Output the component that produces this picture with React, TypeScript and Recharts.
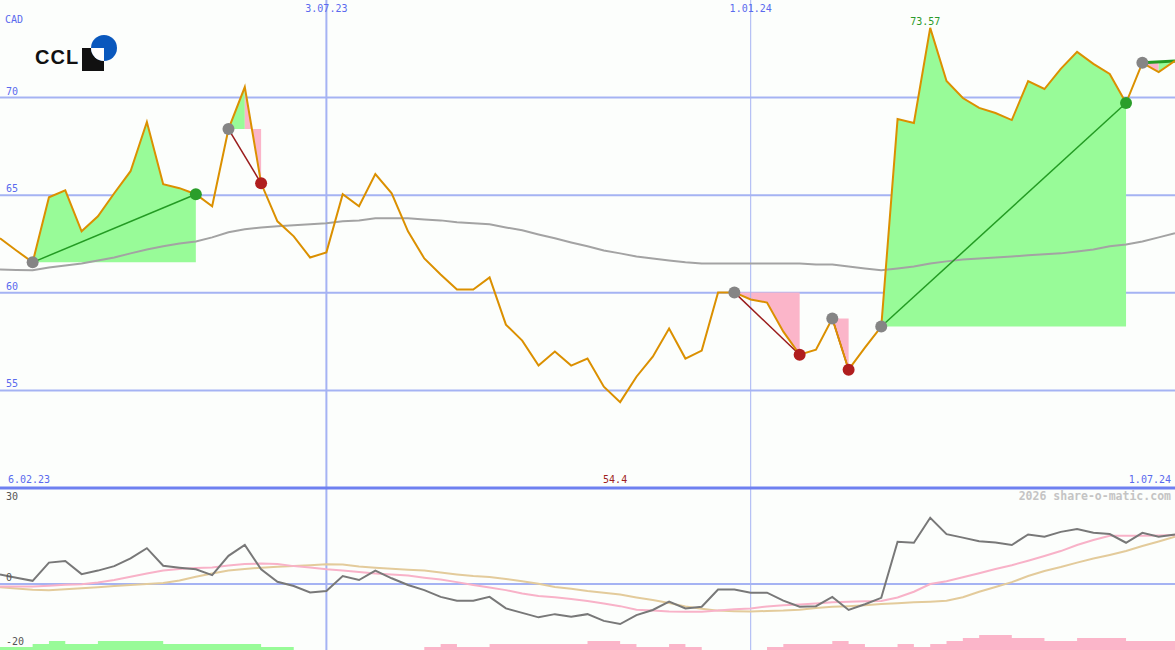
import { ComposedChart, Line, Area, XAxis, YAxis, CartesianGrid, ReferenceLine, ReferenceDot } from 'recharts';

const W = 1175;
const TOP_H = 488;
const LOW_H = 164;

const FONT = '"DejaVu Sans Mono", monospace';
const AXIS_TEXT = '#5a6aee';
const GRID = '#a5b3f3';
const GAIN_FILL = '#98fb98';
const LOSS_FILL = '#fbb5c9';

// weekly closes, CAD
const closes = [
  62.79, 62.17, 61.56, 64.89, 65.25, 63.15, 63.92, 65.10, 66.23, 68.75,
  65.56, 65.36, 65.05, 64.43, 68.39, 70.54, 65.61, 63.66, 62.89, 61.81,
  62.07, 65.05, 64.43, 66.08, 65.10, 63.15, 61.76, 60.94, 60.17, 60.17,
  60.79, 58.37, 57.55, 56.27, 56.99, 56.27, 56.63, 55.19, 54.40, 55.70,
  56.73, 58.17, 56.63, 57.04, 60.02, 60.02, 59.66, 59.50, 58.01, 56.83,
  57.09, 58.68, 56.06, 57.19, 58.27, 68.90, 68.70, 73.57, 70.85, 69.98,
  69.47, 69.21, 68.85, 70.85, 70.44, 71.47, 72.34, 71.73, 71.21, 69.72,
  71.78, 71.31, 71.88,
];

// long moving average
const average = [
  61.20, 61.17, 61.15, 61.30, 61.40, 61.50, 61.66, 61.81, 62.02, 62.22,
  62.38, 62.53, 62.63, 62.84, 63.10, 63.25, 63.35, 63.41, 63.46, 63.51,
  63.56, 63.66, 63.71, 63.82, 63.82, 63.82, 63.76, 63.71, 63.61, 63.56,
  63.51, 63.35, 63.20, 62.99, 62.79, 62.58, 62.38, 62.17, 62.02, 61.86,
  61.76, 61.66, 61.56, 61.50, 61.50, 61.50, 61.50, 61.50, 61.50, 61.50,
  61.45, 61.45, 61.35, 61.25, 61.15, 61.25, 61.35, 61.50, 61.61, 61.71,
  61.76, 61.81, 61.86, 61.92, 61.97, 62.02, 62.12, 62.22, 62.38, 62.48,
  62.63, 62.84, 63.05,
];

const momentum = [
  3.0, 2.0, 1.0, 6.7, 7.2, 3.1, 4.2, 5.6, 8.0, 11.2,
  5.7, 5.1, 4.6, 2.8, 8.8, 12.2, 4.6, 0.7, -0.6, -2.6,
  -2.2, 2.5, 1.25, 4.2, 1.8, -0.3, -1.9, -4.0, -5.2, -5.2,
  -4.0, -7.6, -9.0, -10.4, -9.4, -10.2, -9.4, -11.5, -12.5, -9.7,
  -8.1, -5.5, -7.6, -7.1, -1.7, -1.7, -2.7, -2.7, -5.2, -7.1,
  -6.9, -4.0, -8.1, -6.3, -4.3, 13.2, 12.9, 20.7, 15.6, 14.5,
  13.4, 13.0, 12.2, 15.5, 14.8, 16.3, 17.2, 16.0, 15.6, 12.9,
  16.0, 14.8, 15.5,
];

const fastSignal = [
  -0.8, -0.8, -0.8, -0.5, -0.2, -0.1, 0.5, 1.25, 2.3, 3.3,
  4.2, 4.7, 5.0, 5.2, 5.8, 6.25, 6.4, 6.25, 5.6, 5.2,
  4.6, 4.2, 3.75, 3.3, 2.95, 2.65, 2.0, 1.4, 0.6, -0.3,
  -1.1, -1.9, -2.95, -3.75, -4.1, -4.7, -5.3, -6.1, -6.9, -8.0,
  -8.3, -8.6, -8.65, -8.65, -8.3, -7.9, -7.6, -7.0, -6.6, -6.4,
  -6.1, -5.7, -5.55, -5.4, -5.3, -4.2, -2.4, 0.0, 0.9, 2.1,
  3.4, 4.7, 5.9, 7.3, 8.75, 10.3, 12.2, 13.75, 15.1, 15.1,
  15.1, 15.2, 15.3,
];

const slowSignal = [
  -1.0, -1.4, -1.8, -1.9, -1.65, -1.35, -1.0, -0.6, -0.3, 0.0,
  0.3, 1.1, 2.3, 3.3, 4.2, 4.7, 5.1, 5.4, 5.6, 5.9,
  6.2, 6.1, 5.5, 5.1, 4.75, 4.5, 4.2, 3.6, 3.0, 2.5,
  2.2, 1.6, 0.9, 0.1, -0.9, -1.5, -2.2, -2.75, -3.3, -4.2,
  -5.0, -5.9, -7.0, -7.75, -8.3, -8.5, -8.6, -8.4, -8.3, -8.0,
  -7.5, -7.1, -6.9, -6.6, -6.25, -6.0, -5.7, -5.5, -5.2, -4.1,
  -2.4, -0.9, 0.6, 2.5, 4.1, 5.3, 6.7, 8.0, 9.1, 10.3,
  11.9, 13.3, 14.8,
];

// trend strength blocks along the bottom
const strengthUp = [
  1, 1, 2, 3, 2, 2, 3, 3, 3, 3, 2, 2, 2, 2, 2, 2, 1, 1,
  0, 0, 0, 0, 0, 0, 0, 0, 0, 0, 0, 0, 0, 0, 0, 0, 0, 0, 0, 0, 0, 0,
  0, 0, 0, 0, 0, 0, 0, 0, 0, 0, 0, 0, 0, 0, 0, 0, 0, 0, 0, 0,
  0, 0, 0, 0, 0, 0, 0, 0, 0, 0, 0, 0, 0,
];
const strengthDown = [
  0, 0, 0, 0, 0, 0, 0, 0, 0, 0, 0, 0, 0, 0, 0, 0, 0, 0, 0, 0, 0, 0, 0, 0, 0, 0,
  1, 2, 1, 1, 2, 2, 2, 2, 2, 2, 3, 3, 2, 1, 1, 2, 1, 0, 0, 0, 0,
  1, 2, 2, 2, 3, 2, 1, 1, 2, 1, 2, 3, 4, 5, 5, 4, 4, 3, 3, 4, 4, 4,
  3, 3, 3, 3,
];

const priceTicks = [55, 60, 65, 70];
const oscTicks = [-20, 0, 30];
const midDates = [
  { at: 20, text: '3.07.23' },
  { at: 46, text: '1.01.24' },
];
const firstDate = '6.02.23';
const lastDate = '1.07.24';

// trades: entry week -> exit week
const trades = [
  { entry: 2, exit: 12, result: 'win' },
  { entry: 14, exit: 16, result: 'loss' },
  { entry: 45, exit: 49, result: 'loss' },
  { entry: 51, exit: 52, result: 'loss' },
  { entry: 54, exit: 69, result: 'win' },
  { entry: 70, exit: 72, result: 'open' },
];

// shaded stretches between the close and the entry level
const bands = [
  { from: 2, to: 12, entry: 2, up: true },
  { from: 14, to: 15, entry: 14, up: true },
  { from: 15, to: 16, entry: 14, up: false },
  { from: 45, to: 49, entry: 45, up: false },
  { from: 51, to: 52, entry: 51, up: false },
  { from: 54, to: 69, entry: 54, up: true },
  { from: 70, to: 71, entry: 70, up: false },
  { from: 71, to: 72, entry: 70, up: true },
];

const LAST = closes.length - 1;

const dotColors: Record<number, string> = {};
trades.forEach((t) => {
  dotColors[t.entry] = '#858585';
  if (t.result === 'win') dotColors[t.exit] = '#2a9e2a';
  if (t.result === 'loss') dotColors[t.exit] = '#b01e1e';
});

const renderTradeDot = (p: any) => {
  const c = dotColors[p.index];
  if (!c) return <g key={p.index} />;
  return <circle key={p.index} cx={p.cx} cy={p.cy} r={6} fill={c} />;
};

const priceTick = (p: any) => (
  <text x={6} y={p.y - 3} fill={AXIS_TEXT} fontSize={10} fontFamily={FONT}>
    {p.payload.value}
  </text>
);

// the top value sits just inside the panel, the rest ride above their level
const oscTick = (p: any) => {
  const top = p.payload.value === Math.max(...oscTicks);
  return (
    <text x={6} y={top ? p.y + 12 : p.y - 3} fill="#555" fontSize={10} fontFamily={FONT}>
      {p.payload.value}
    </text>
  );
};

function PricePanel() {
  const rows = closes.map((c, i) => {
    const r: any = { i, close: c, avg: average[i] };
    bands.forEach((b, k) => {
      r['band' + k] = i >= b.from && i <= b.to ? [closes[b.entry], c] : null;
    });
    return r;
  });
  const hi = Math.max(...closes);
  const lo = Math.min(...closes);
  const hiIdx = closes.indexOf(hi);
  const loIdx = closes.indexOf(lo);

  return (
    <ComposedChart width={W} height={TOP_H} data={rows} margin={{ top: 0, right: 0, bottom: 0, left: 0 }}>
      <CartesianGrid vertical={false} syncWithTicks stroke={GRID} strokeWidth={2} />
      <XAxis dataKey="i" type="number" domain={[0, LAST]} hide allowDataOverflow />
      <YAxis
        type="number"
        domain={[50, 75]}
        ticks={priceTicks}
        interval={0}
        mirror
        axisLine={false}
        tickLine={false}
        tick={priceTick}
        allowDataOverflow
      />
      {midDates.map((d, k) => (
        <ReferenceLine
          key={d.text}
          x={d.at}
          stroke={GRID}
          strokeWidth={k === 0 ? 2 : 1}
          label={(p: any) => (
            <text x={p.viewBox.x} y={p.viewBox.y + 12} textAnchor="middle" fill={AXIS_TEXT} fontSize={10} fontFamily={FONT}>
              {d.text}
            </text>
          )}
        />
      ))}
      {bands.map((b, k) => (
        <Area
          key={k}
          dataKey={'band' + k}
          type="linear"
          stroke="none"
          fill={b.up ? GAIN_FILL : LOSS_FILL}
          fillOpacity={1}
          dot={false}
          activeDot={false}
          isAnimationActive={false}
        />
      ))}
      <Line dataKey="avg" type="linear" stroke="#a3a3a3" strokeWidth={2} dot={false} activeDot={false} isAnimationActive={false} />
      {trades.map((t) => (
        <ReferenceLine
          key={t.entry}
          segment={[
            { x: t.entry, y: closes[t.entry] },
            { x: t.exit, y: closes[t.exit] },
          ]}
          stroke={t.result === 'loss' ? '#9a1c1c' : '#239b23'}
          strokeWidth={t.result === 'open' ? 3 : 1.5}
        />
      ))}
      <Line dataKey="close" type="linear" stroke="none" dot={renderTradeDot} activeDot={false} isAnimationActive={false} />
      <Line dataKey="close" type="linear" stroke="#db9000" strokeWidth={2} dot={false} activeDot={false} isAnimationActive={false} />
      <ReferenceDot
        x={hiIdx}
        y={hi}
        r={0}
        label={(p: any) => (
          <text x={p.viewBox.x - 5} y={p.viewBox.y - 3} textAnchor="middle" fill="#2a9a2a" fontSize={10} fontFamily={FONT}>
            {hi.toFixed(2)}
          </text>
        )}
      />
      <ReferenceDot
        x={loIdx}
        y={50}
        r={0}
        label={(p: any) => (
          <text x={p.viewBox.x - 5} y={p.viewBox.y - 5} textAnchor="middle" fill="#a01e1e" fontSize={10} fontFamily={FONT}>
            {String(lo)}
          </text>
        )}
      />
      <ReferenceDot
        x={0}
        y={50}
        r={0}
        label={(p: any) => (
          <text x={p.viewBox.x + 8} y={p.viewBox.y - 5} fill={AXIS_TEXT} fontSize={10} fontFamily={FONT}>
            {firstDate}
          </text>
        )}
      />
      <ReferenceDot
        x={LAST}
        y={50}
        r={0}
        label={(p: any) => (
          <text x={p.viewBox.x - 4} y={p.viewBox.y - 5} textAnchor="end" fill={AXIS_TEXT} fontSize={10} fontFamily={FONT}>
            {lastDate}
          </text>
        )}
      />
    </ComposedChart>
  );
}

function OscillatorPanel() {
  const rows = momentum.map((m, i) => ({
    i,
    mom: m,
    fast: fastSignal[i],
    slow: slowSignal[i],
    up: strengthUp[i],
    down: strengthDown[i],
  }));

  return (
    <ComposedChart width={W} height={LOW_H} data={rows} margin={{ top: 2, right: 0, bottom: 0, left: 0 }}>
      <XAxis dataKey="i" type="number" domain={[0, LAST]} hide allowDataOverflow />
      <YAxis
        yAxisId="osc"
        type="number"
        domain={[-20.6, 30]}
        ticks={oscTicks}
        interval={0}
        mirror
        axisLine={false}
        tickLine={false}
        tick={oscTick}
        allowDataOverflow
      />
      <YAxis yAxisId="bars" type="number" domain={[0, 54]} hide />
      <Area yAxisId="bars" type="stepAfter" dataKey="up" stroke="none" fill={GAIN_FILL} fillOpacity={1} dot={false} activeDot={false} isAnimationActive={false} />
      <Area yAxisId="bars" type="stepAfter" dataKey="down" stroke="none" fill={LOSS_FILL} fillOpacity={1} dot={false} activeDot={false} isAnimationActive={false} />
      <ReferenceLine yAxisId="osc" y={0} stroke={GRID} strokeWidth={2} />
      {midDates.map((d, k) => (
        <ReferenceLine key={d.text} yAxisId="osc" x={d.at} stroke={GRID} strokeWidth={k === 0 ? 2 : 1} />
      ))}
      <ReferenceLine yAxisId="osc" y={30} stroke="#6e80f0" strokeWidth={3} />
      <Line yAxisId="osc" dataKey="slow" type="linear" stroke="#e3cb9b" strokeWidth={2} dot={false} activeDot={false} isAnimationActive={false} />
      <Line yAxisId="osc" dataKey="fast" type="linear" stroke="#f8b2c8" strokeWidth={2} dot={false} activeDot={false} isAnimationActive={false} />
      <Line yAxisId="osc" dataKey="mom" type="linear" stroke="#787878" strokeWidth={2} dot={false} activeDot={false} isAnimationActive={false} />
    </ComposedChart>
  );
}

export default function App() {
  return (
    <div style={{ position: 'absolute', left: 0, top: 0, width: W, height: 650, background: '#fcfefc', overflow: 'hidden' }}>
      <div style={{ position: 'absolute', left: 0, top: 0 }}>
        <PricePanel />
      </div>
      <div style={{ position: 'absolute', left: 0, top: 486 }}>
        <OscillatorPanel />
      </div>
      <svg width={W} height={650} style={{ position: 'absolute', left: 0, top: 0, pointerEvents: 'none' }}>
        <text x={5} y={23} fill={AXIS_TEXT} fontSize={10} fontFamily={FONT}>CAD</text>
        <text x={35} y={64} fill="#111" fontSize={20} fontWeight={900} fontFamily='"Liberation Sans", Arial, sans-serif' letterSpacing={1}>
          CCL
        </text>
        <rect x={82} y={48} width={22} height={23} fill="#111" />
        <circle cx={104} cy={48} r={13} fill="#0a58bd" />
        <path d="M104 48 L91 48 A13 13 0 0 0 104 61 Z" fill="#fff" />
        <text x={1171} y={500} textAnchor="end" fill="#c4c4c4" fontSize={11.5} fontWeight="bold" fontFamily={FONT}>
          2026 share-o-matic.com
        </text>
      </svg>
    </div>
  );
}
